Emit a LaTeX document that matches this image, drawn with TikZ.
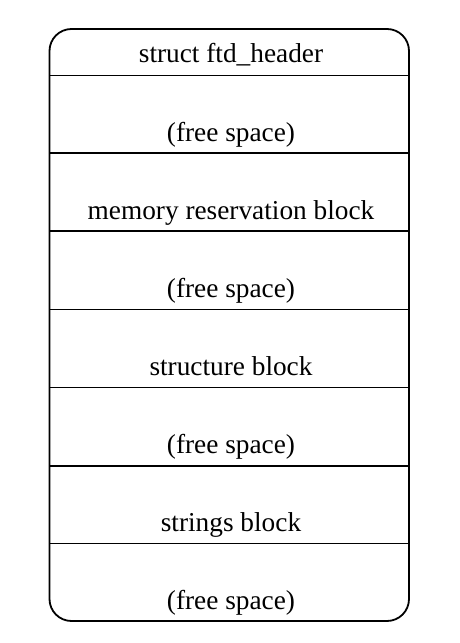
\documentclass[tikz,border=0pt]{standalone}
\usepackage{fontspec}
\setmainfont{Liberation Serif}
\begin{document}
\begin{tikzpicture}[x=1pt,y=1pt,
  frame/.style={draw=black, line width=1.8pt, rounded corners=22pt, inner sep=0pt, outer sep=0pt},
  divider/.style={draw=black, line width=1.8pt},
  lbl/.style={anchor=base, inner sep=0pt, font=\fontsize{27.3}{32}\selectfont}]
\useasboundingbox (0,0) rectangle (459,643);
\node[frame, minimum width=359.5pt, minimum height=592pt] (rec) at (229.25,318) {};
\foreach \y/\n in {567.5/d1, 490/d2, 412/d3, 333.5/d4, 255.5/d5, 177/d6, 99.5/d7}{
  \coordinate (\n l) at (rec.west |- 0,\y);
  \coordinate (\n r) at (rec.east |- 0,\y);
  \draw[divider] (\n l) -- (\n r);
}
\node[lbl] (t0) at (231,580) {struct ftd\_header};
\node[lbl] (t1) at (231,501.5) {(free space)};
\node[lbl] (t2) at (231,423.5) {memory reservation block};
\node[lbl] (t3) at (231,345.5) {(free space)};
\node[lbl] (t4) at (231,267) {structure block};
\node[lbl] (t5) at (231,189) {(free space)};
\node[lbl] (t6) at (231,111) {strings block};
\node[lbl] (t7) at (231,33.5) {(free space)};
\end{tikzpicture}
\end{document}
